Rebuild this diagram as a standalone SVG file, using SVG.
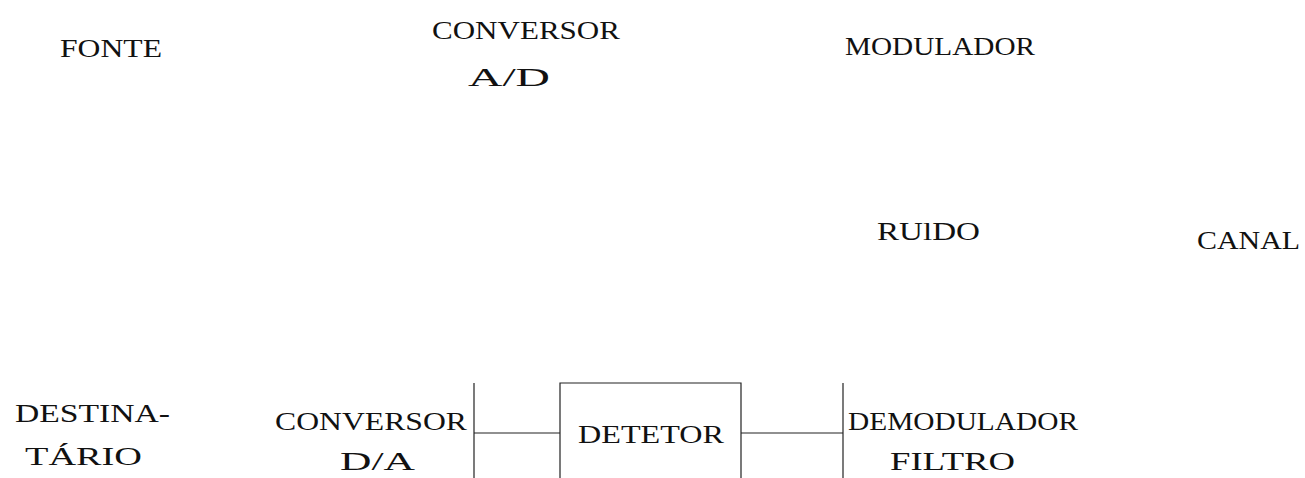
<svg xmlns="http://www.w3.org/2000/svg" width="1305" height="478" viewBox="0 0 1305 478">
<style>
text{font-family:"Liberation Serif","Times New Roman",serif;font-size:25px;fill:#111}
.w{font-size:26px}
line,.box{stroke:#222;stroke-width:1.2;fill:none}
</style>
<rect width="1305" height="478" fill="#fff"/>
<g id="fonte"><text x="60" y="57" textLength="102" lengthAdjust="spacingAndGlyphs">FONTE</text></g>
<g id="conversor-ad"><text class="w" x="432" y="39" textLength="188" lengthAdjust="spacingAndGlyphs">CONVERSOR</text><text x="468" y="86" textLength="82" lengthAdjust="spacingAndGlyphs">A/D</text></g>
<g id="modulador"><text class="w" x="845" y="55" textLength="190" lengthAdjust="spacingAndGlyphs">MODULADOR</text></g>
<g id="ruido"><text x="877" y="240" textLength="103" lengthAdjust="spacingAndGlyphs">RUlDO</text></g>
<g id="canal"><text x="1197" y="249" textLength="103" lengthAdjust="spacingAndGlyphs">CANAL</text></g>
<g id="destinatario"><text x="15" y="422" textLength="155" lengthAdjust="spacingAndGlyphs">DESTINA-</text><text x="25" y="465" textLength="117" lengthAdjust="spacingAndGlyphs">TÁRIO</text></g>
<g id="conversor-da"><text class="w" x="275" y="430" textLength="192" lengthAdjust="spacingAndGlyphs">CONVERSOR</text><text x="340" y="470" textLength="75" lengthAdjust="spacingAndGlyphs">D/A</text></g>
<g id="detetor"><polyline class="box" points="560,478 560,383 741,383 741,478"/><text class="w" x="578" y="443" textLength="146" lengthAdjust="spacingAndGlyphs">DETETOR</text></g>
<g id="demodulador"><text class="w" x="848" y="430" textLength="230" lengthAdjust="spacingAndGlyphs">DEMODULADOR</text><text x="890" y="470" textLength="125" lengthAdjust="spacingAndGlyphs">FILTRO</text></g>
<g id="connectors">
<line x1="474" y1="383" x2="474" y2="478"/>
<line x1="474" y1="433" x2="560" y2="433"/>
<line x1="741" y1="433" x2="843" y2="433"/>
<line x1="843" y1="383" x2="843" y2="478"/>
</g>
</svg>
